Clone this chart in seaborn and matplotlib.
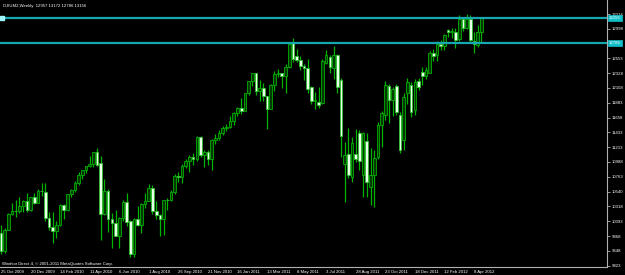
import matplotlib
matplotlib.use("Agg")
import matplotlib.pyplot as plt
import numpy as np
import pandas as pd
import seaborn as sns

# ---- data (weekly candles, DJIUM2) ----
opens = [9915, 9650, 9960, 10205, 10253, 10244, 10323, 10406, 10264, 10455,
         10363, 10553, 10540, 10138, 10002, 9947, 10034, 10337, 10260, 10501,
         10560, 10677, 10785, 10862, 10932, 10954, 11139, 10968, 10200, 10555,
         10128, 10072, 9867, 10147, 10385, 10100, 9600, 10133, 10033, 10360,
         10401, 10600, 10250, 10190, 10123, 10420, 10410, 10530, 10777, 10760,
         10930, 11006, 11060, 11040, 11370, 11100, 11138, 11027, 11317, 11345,
         11426, 11508, 11512, 11609, 11722, 11806, 11758, 12027, 12208, 12326,
         12065, 12104, 11979, 11793, 12156, 12311, 12327, 12286, 12428, 12779,
         12588, 12523, 12443, 12402, 12124, 11913, 11898, 11874, 12477, 12568,
         12402, 12598, 12223, 10956, 11104, 10766, 11115, 11430, 10792, 11305,
         10615, 10792, 11068, 11546, 11697, 12131, 11923, 12134, 11697, 11320,
         12024, 12146, 11773, 12206, 12350, 12290, 12336, 12637, 12602, 12768,
         12740, 12980, 12946, 12946, 12850, 13140, 13010, 13150, 12815, 12760,
         12957]
highs = [10030, 9995, 10225, 10375, 10415, 10455, 10415, 10515, 10465, 10515,
         10575, 10665, 10666, 10235, 10235, 10095, 10355, 10355, 10505, 10575,
         10705, 10835, 10865, 10935, 11085, 11145, 11195, 11085, 10725, 10575,
         10225, 10265, 10165, 10415, 10525, 10110, 10145, 10325, 10365, 10525,
         10655, 10640, 10395, 10205, 10395, 10450, 10565, 10805, 10835, 10955,
         11035, 11095, 11125, 11385, 11385, 11175, 11165, 11335, 11405, 11465,
         11525, 11555, 11675, 11735, 11815, 11955, 12035, 12215, 12335, 12326,
         12225, 12175, 11985, 12165, 12355, 12385, 12335, 12465, 12785, 12854,
         12690, 12585, 12465, 12535, 12135, 12045, 12125, 12535, 12685, 12595,
         12738, 12625, 12260, 11294, 11496, 11370, 11480, 11470, 11445, 11420,
         11200, 11169, 11590, 11760, 12215, 12165, 12115, 12160, 11735, 12035,
         12260, 12200, 12235, 12255, 12415, 12415, 12665, 12695, 12815, 12835,
         12920, 13000, 13005, 13005, 13200, 13180, 13216, 13200, 12955, 13055,
         13172]
lows = [9605, 9615, 9955, 10195, 10165, 10215, 10235, 10235, 10255, 10355,
        10363, 10475, 10105, 9965, 9770, 9840, 10025, 10135, 10255, 10465,
        10535, 10635, 10725, 10815, 10915, 10915, 10925, 9805, 10190, 9935,
        9695, 9865, 9692, 10095, 10015, 9549, 9550, 10025, 9915, 10295,
        10395, 10205, 10135, 9871, 9886, 10260, 10395, 10505, 10685, 10675,
        10895, 10840, 10945, 11005, 11068, 10915, 10945, 10865, 11265, 11325,
        11395, 11455, 11505, 11545, 11675, 11715, 11755, 12005, 12135, 12005,
        11915, 11915, 11490, 11785, 12065, 12265, 12105, 12025, 12410, 12500,
        12490, 12375, 12225, 12035, 11865, 11795, 11805, 11865, 12465, 12335,
        12235, 12025, 11070, 10389, 10742, 10690, 10990, 10860, 10464, 10464,
        10340, 10313, 11040, 11219, 11620, 11575, 11675, 11695, 11120, 11165,
        11865, 11665, 11695, 12075, 12150, 12235, 12327, 12505, 12515, 12678,
        12685, 12880, 12855, 12704, 12810, 12960, 12990, 12800, 12630, 12728,
        12786]
closes = [9650, 9958, 10205, 10253, 10244, 10323, 10406, 10264, 10455, 10363,
          10553, 10545, 10138, 10002, 9947, 10034, 10337, 10260, 10501, 10560,
          10677, 10785, 10862, 10932, 10954, 11139, 10944, 10200, 10555, 10128,
          10072, 9867, 10147, 10385, 10079, 9600, 10133, 10033, 10360, 10401,
          10589, 10250, 10190, 10127, 10420, 10410, 10530, 10777, 10760, 10930,
          11006, 11060, 11040, 11370, 11100, 11138, 11027, 11317, 11345, 11426,
          11508, 11512, 11609, 11722, 11806, 11758, 12027, 12208, 12326, 12065,
          12104, 11979, 11793, 12156, 12311, 12327, 12286, 12428, 12775, 12538,
          12528, 12443, 12400, 12085, 11913, 11930, 11848, 12508, 12598, 12428,
          12598, 12115, 11380, 11093, 10792, 11270, 11034, 11007, 11430, 10690,
          10792, 11044, 11546, 11732, 12146, 11923, 12088, 11747, 11169, 11974,
          12196, 11747, 12196, 12124, 12290, 12376, 12637, 12592, 12768, 12736,
          12905, 12946, 12960, 12829, 13140, 13010, 13147, 12830, 12770, 12955,
          13156]

date_labels = ["25 Oct 2009", "20 Dec 2009", "14 Feb 2010", "11 Apr 2010",
               "6 Jun 2010", "1 Aug 2010", "26 Sep 2010", "21 Nov 2010",
               "16 Jan 2011", "13 Mar 2011", "8 May 2011", "3 Jul 2011",
               "28 Aug 2011", "23 Oct 2011", "18 Dec 2011", "12 Feb 2012",
               "8 Apr 2012"]
date_label_bars = [0, 8, 16, 24, 32, 40, 48, 56, 64, 72, 80, 88, 96, 104, 112, 120, 128]
price_ticks = [13216, 12998, 12553, 12328, 12108, 11883, 11658, 11433, 11213,
               10988, 10763, 10540, 10318, 10093, 9868, 9648, 9423]
level_lines = [13156, 12786]
title_text = "DJIUM2,Weekly  12957 13172 12786 13156"
footer_text = "Windsor Direct 4, \u00a9 2001-2011 MetaQuotes Software Corp."

df = pd.DataFrame({"bar": np.arange(len(opens)), "open": opens, "high": highs,
                   "low": lows, "close": closes})

sns.set_theme(style="dark", rc={"axes.facecolor": "black", "figure.facecolor": "black",
                                "axes.grid": False})
plt.rcParams["font.family"] = ["Liberation Sans", "DejaVu Sans"]

W, H = 625, 275
fig = plt.figure(figsize=(W / 100, H / 100), dpi=100)
bottom_px = 267.0
right_px = 606.5
ax = fig.add_axes([0, (H - bottom_px) / H, right_px / W, bottom_px / H])
ax.set_facecolor("black")

px_per_bar = 3.695
ax.set_xlim(-1 / px_per_bar, (right_px - 1) / px_per_bar)
ppp = 15.09  # price per pixel
ax.set_ylim(9423 - (bottom_px - 265.7) * ppp, 9423 + 265.7 * ppp)

wick_col = "#00b400"
up = df["close"] >= df["open"]
ax.vlines(df["bar"], df["low"], df["high"], color=wick_col, lw=0.9, zorder=2)
bw = 0.72
ax.bar(df["bar"][up], (df["close"] - df["open"])[up], bottom=df["open"][up], width=bw,
       color="#063806", edgecolor="#00b000", linewidth=0.6, zorder=3)
ax.bar(df["bar"][~up], (df["open"] - df["close"])[~up], bottom=df["close"][~up], width=bw,
       color="#e8ffe8", edgecolor="#30c030", linewidth=0.6, zorder=3)

fs = 3.1
for lv in level_lines:
    ax.axhline(lv, color="#16a8b0", lw=1.6, zorder=4)
    ax.text(1.004, lv, f"{lv}", transform=ax.get_yaxis_transform(), ha="left", va="center",
            fontsize=fs, color="white", zorder=6, clip_on=False,
            bbox=dict(boxstyle="square,pad=0.2", fc="#10c0c8", ec="#10c0c8", lw=0.5))
# small anchor square at the left end of the top line
ax.plot([0.004], [level_lines[0]], marker="s", markersize=2.6, color="#9ff8ff",
        transform=ax.get_yaxis_transform(), zorder=5, clip_on=False)

ax.yaxis.tick_right()
ax.set_yticks(price_ticks)
ax.set_yticklabels([str(v) for v in price_ticks])
ax.tick_params(axis="y", colors="#b0b0b0", labelcolor="white", labelsize=fs,
               length=2, width=0.6, pad=1.5, direction="out")
ax.set_xticks(date_label_bars)
ax.set_xticklabels(date_labels)
for lab in ax.get_xticklabels():
    lab.set_ha("left")
ax.tick_params(axis="x", colors="#b0b0b0", labelcolor="white", labelsize=fs,
               length=1.5, width=0.6, pad=0.6, direction="out")

for s in ["top", "left"]:
    ax.spines[s].set_visible(False)
for s in ["right", "bottom"]:
    ax.spines[s].set_color("#b0b0b0")
    ax.spines[s].set_linewidth(0.8)

fig.text(3 / W, 1 - 6 / H, title_text, fontsize=fs, color="white", ha="left", va="center")
fig.text(2 / W, 1 - 263.5 / H, footer_text, fontsize=fs, color="white", ha="left", va="center")

fig.savefig("out.png", dpi=100, facecolor="black")
